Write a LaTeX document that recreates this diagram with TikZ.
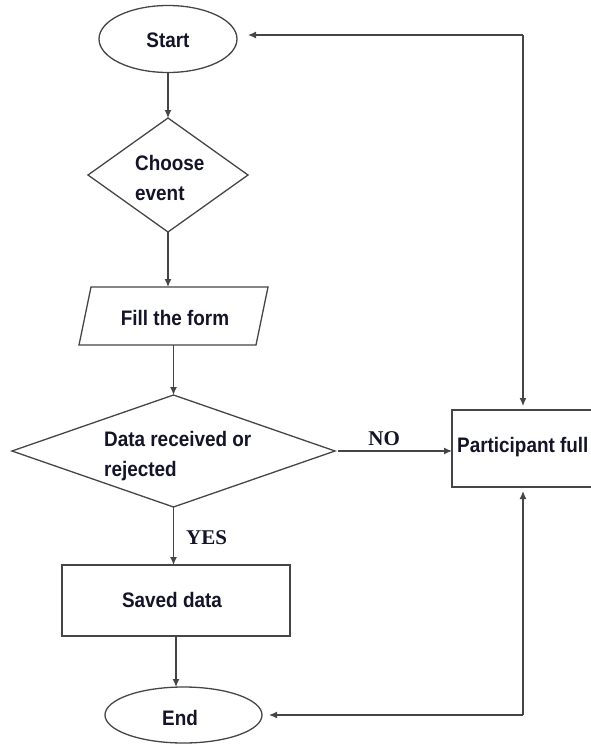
\documentclass[tikz,border=0pt]{standalone}
\usepackage{fontspec}
\setmainfont{Liberation Sans}[FakeStretch=0.9]
\newfontfamily\tagfont{Liberation Serif}
\usetikzlibrary{shapes.geometric,arrows.meta}

\definecolor{edge}{HTML}{454545}
\definecolor{ink}{HTML}{141428}

\tikzset{
  shapebox/.style={draw=edge, line width=1.3pt, inner sep=0pt, outer sep=0pt},
  terminal/.style={shapebox, ellipse},
  decision/.style={shapebox, diamond},
  process/.style={shapebox, rectangle},
  txt/.style={text=ink, font=\fontsize{21}{30}\selectfont\bfseries, inner sep=0pt, align=left},
  tag/.style={text=ink, font=\tagfont\fontsize{21}{24}\selectfont\bfseries, inner sep=0pt},
  flow/.style={draw=edge, line width=1.3pt, -{Latex[length=8pt,width=7pt]}},
  wire/.style={draw=edge, line width=1.3pt}
}

\begin{document}
\begin{tikzpicture}[x=1pt,y=-1pt]
  \useasboundingbox (0,0) rectangle (590,745);

  % shapes
  \node[terminal, minimum width=138pt, minimum height=67pt] (start) at (168,39) {};
  \node[decision, minimum width=160pt, minimum height=114pt] (choose) at (168,175) {};
  % input step: a parallelogram leaning right, drawn around an invisible frame
  \node[inner sep=0pt, outer sep=0pt, minimum width=165pt, minimum height=58pt] (fill) at (173.5,316) {};
  \draw[wire, line join=miter]
    ([xshift=-12pt]fill.south west) -- (fill.north west) -- ([xshift=12pt]fill.north east)
    -- (fill.south east) -- cycle;
  \node[decision, minimum width=323pt, minimum height=112pt] (data) at (173.5,451) {};
  \node[process, minimum width=170pt, minimum height=77pt] (part) at (537,448.5) {};
  \node[process, minimum width=228pt, minimum height=71pt] (saved) at (176,600.5) {};
  \node[terminal, minimum width=157pt, minimum height=56pt] (end) at (183.5,715) {};

  % texts
  \node[txt] (starttxt) at (168,40) {Start};
  \node[txt, anchor=west] (choosetxt) at (135,178) {Choose\\event};
  \node[txt] (filltxt) at (175,318) {Fill the form};
  \node[txt, anchor=west] (datatxt) at (104,456) {Data received or\\rejected};
  \node[txt, anchor=west] (parttxt) at (457,447) {Participant full};
  \node[txt] (savedtxt) at (172,600) {Saved data};
  \node[txt] (endtxt) at (180,718) {End};

  % main flow
  \draw[flow] (start.south) -- (start.south |- choose.north);
  \draw[flow] (choose.south) -- (choose.south |- fill.north);
  \draw[flow] (fill.south) -- (fill.south |- data.north);
  \draw[flow] (data.south) -- (data.south |- saved.north)
    node[tag, pos=0.52, anchor=west, xshift=12pt] (yes) {YES};
  \draw[flow, shorten <=3pt] (data.east) -- (data.east -| part.west)
    node[tag, pos=0.42, anchor=south, yshift=5pt] (no) {NO};
  \draw[flow] (saved.south) -- (saved.south |- end.north);

  % return loops
  \coordinate (ctop) at (523,35);
  \coordinate (cbot) at (523,715);
  \draw[flow, shorten >=11pt] (ctop) -- (ctop -| start.east);
  \draw[flow, shorten >=4pt] (ctop) -- (ctop |- part.north);
  \draw[flow, shorten >=7pt] (cbot) -- (cbot -| end.east);
  \draw[flow, shorten >=4pt] (cbot) -- (cbot |- part.south);
\end{tikzpicture}
\end{document}
